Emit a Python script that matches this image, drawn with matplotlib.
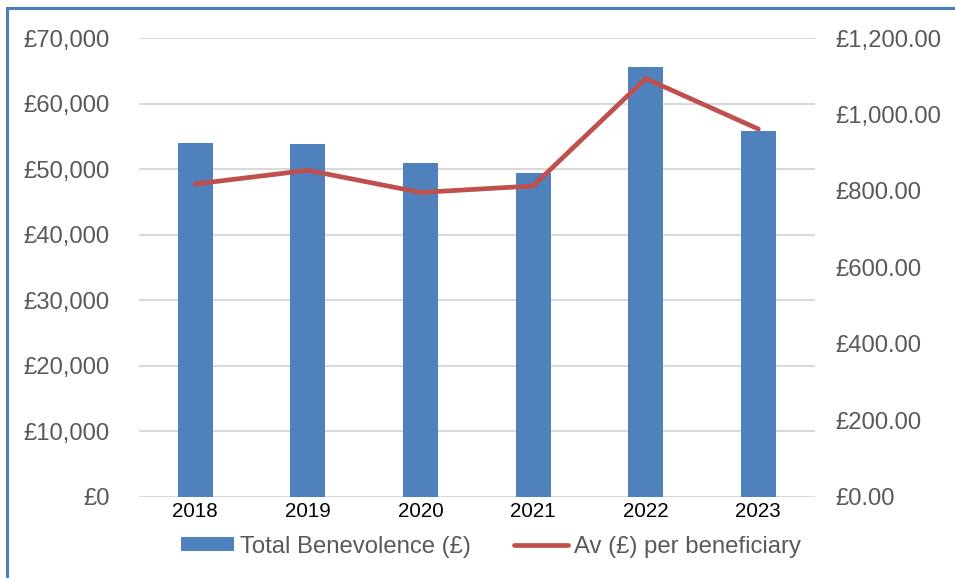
import matplotlib.pyplot as plt
from matplotlib.patches import Rectangle
from matplotlib.ticker import FuncFormatter
import numpy as np

plt.rcParams['font.family'] = ['Liberation Sans', 'DejaVu Sans']

years = ['2018', '2019', '2020', '2021', '2022', '2023']
total_benevolence = [53930, 53780, 50880, 49450, 65620, 55760]
av_per_beneficiary = [818, 854, 796, 813, 1094, 962]

bar_col = '#4f81bd'
line_col = '#c0504d'
grey = '#595959'

fig = plt.figure(figsize=(9.55, 5.78), dpi=100)
ax = fig.add_axes([0.1455, 0.1407, 0.7075, 0.7935])
ax2 = ax.twinx()

x = np.arange(len(years))
ax.bar(x, total_benevolence, width=0.31, color=bar_col, label='Total Benevolence (£)', zorder=2)
ax2.plot(x, av_per_beneficiary, color=line_col, lw=3.4, solid_capstyle='round',
         solid_joinstyle='round', label='Av (£) per beneficiary')

ax.set_xlim(-0.5, len(years) - 0.5)
ax.set_ylim(0, 70000)
ax2.set_ylim(0, 1200)
ax.set_yticks(range(0, 70001, 10000))
ax2.set_yticks(range(0, 1201, 200))
ax.yaxis.set_major_formatter(FuncFormatter(lambda v, p: '£{:,.0f}'.format(v)))
ax2.yaxis.set_major_formatter(FuncFormatter(lambda v, p: '£{:,.2f}'.format(v)))
ax.set_xticks(x)
ax.set_xticklabels(years)

ax.grid(axis='y', color='#d9d9d9', lw=1.5, zorder=0)
ax.set_axisbelow(True)
for a in (ax, ax2):
    for s in a.spines.values():
        s.set_visible(False)
ax.tick_params(axis='y', length=0, pad=21, labelsize=17.2, labelcolor=grey)
ax2.tick_params(axis='y', length=0, pad=15, labelsize=17.2, labelcolor=grey)
ax.tick_params(axis='x', length=0, pad=4, labelsize=14.8, labelcolor='black')

h1, l1 = ax.get_legend_handles_labels()
h2, l2 = ax2.get_legend_handles_labels()
fig.legend(h1 + h2, l1 + l2, loc='center', bbox_to_anchor=(0.514, 0.054), ncol=2,
           frameon=False, fontsize=17.2, labelcolor=grey, handlelength=2.25,
           handleheight=0.5, handletextpad=0.25, columnspacing=1.8)

# outer frame (cropped at right and bottom)
fig.patches.append(Rectangle((7 / 955, -0.1), 1.2, 1.1 - 8 / 578, transform=fig.transFigure,
                             fill=False, edgecolor='#4a7ebb', lw=2.2, clip_on=False))

fig.savefig('out.png', dpi=100)
